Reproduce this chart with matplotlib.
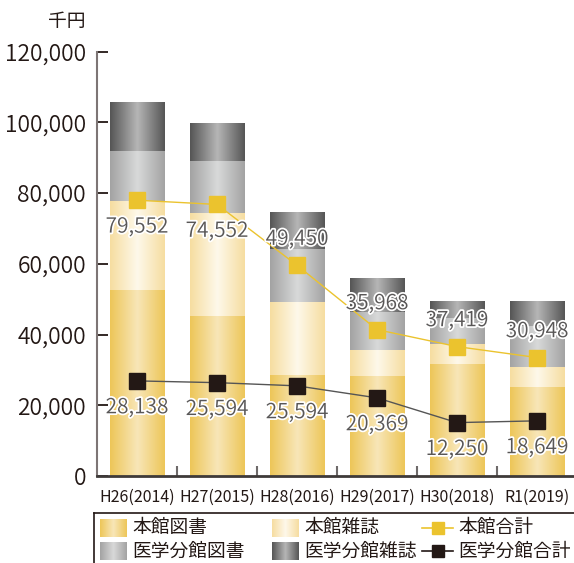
import matplotlib
matplotlib.use('Agg')
import matplotlib.pyplot as plt
import matplotlib.patheffects as pe
import numpy as np
from matplotlib.colors import LinearSegmentedColormap
from matplotlib.patches import Rectangle
from matplotlib.lines import Line2D

plt.rcParams['font.family'] = ['Noto Sans CJK JP', 'DejaVu Sans']

years = ['H26(2014)', 'H27(2015)', 'H28(2016)', 'H29(2017)', 'H30(2018)', 'R1(2019)']
series_names = ['本館図書', '本館雑誌', '医学分館図書', '医学分館雑誌']
line_names = ['本館合計', '医学分館合計']

# stacked bar segments (thousand yen)
honkan_books = [52550, 45190, 28470, 28190, 31690, 25160]
honkan_journals = [25300, 29260, 20680, 7360, 5660, 5660]
igaku_books = [14080, 14650, 15020, 10850, 7250, 11530]
igaku_journals = [13870, 10680, 10480, 9460, 4840, 7090]

# line markers as drawn, and the numbers printed next to them
honkan_total_pos = [78000, 76800, 59600, 41400, 36600, 33500]
igaku_total_pos = [26900, 26400, 25500, 22100, 15100, 15600]
honkan_total_labels = [79552, 74552, 49450, 35968, 37419, 30948]
igaku_total_labels = [28138, 25594, 25594, 20369, 12250, 18649]

yticks = [0, 20000, 40000, 60000, 80000, 100000, 120000]

text_c = '#231815'
gradients = [('#EDC658', '#F8E6B8'), ('#F6DDA0', '#FEF8EA'),
             ('#A3A3A3', '#D8D9D9'), ('#555555', '#B6B6B6')]
cmaps = [LinearSegmentedColormap.from_list('g%d' % i, [e, c, e])
         for i, (e, c) in enumerate(gradients)]
grad = np.linspace(0, 1, 256).reshape(1, -1)

W, H = 574, 563
fig = plt.figure(figsize=(W / 100, H / 100), dpi=100)
ax = fig.add_axes([97 / W, 1 - 476 / H, (W - 97) / W, (476 - 51.7) / H])

x = np.arange(len(years))
bottom = np.zeros(len(years))
for vals, cmap in zip([honkan_books, honkan_journals, igaku_books, igaku_journals], cmaps):
    bars = ax.bar(x, vals, bottom=bottom, width=0.68, color=cmap(0.5), zorder=2)
    for b in bars:
        im = ax.imshow(grad, cmap=cmap, aspect='auto', interpolation='bilinear',
                       extent=(b.get_x(), b.get_x() + b.get_width(),
                               b.get_y(), b.get_y() + b.get_height()), zorder=2.1)
        im.set_clip_path(b)
    bottom += np.array(vals)

ax.plot(x, honkan_total_pos, color='#EBC32E', lw=1.0, marker='s', ms=12,
        mfc='#EBC32E', mec='#EBC32E', zorder=3)
ax.plot(x, igaku_total_pos, color='#555555', lw=1.0, marker='s', ms=12,
        mfc=text_c, mec=text_c, zorder=3)

stroke = [pe.withStroke(linewidth=2.5, foreground='white')]
for i in range(len(years)):
    off = -19 if i < 2 else 19
    ax.annotate('{:,}'.format(honkan_total_labels[i]), (x[i], honkan_total_pos[i]),
                xytext=(0, off), textcoords='offset points', ha='center', va='center',
                fontsize=15, fontweight=350, color='#595757',
                path_effects=stroke, zorder=4)
    ax.annotate('{:,}'.format(igaku_total_labels[i]), (x[i], igaku_total_pos[i]),
                xytext=(0, -19), textcoords='offset points', ha='center', va='center',
                fontsize=15, fontweight=350, color='#595757',
                path_effects=stroke, zorder=4)

ax.set_xlim(-0.5, -0.5 + (W - 97) / 80)
ax.set_ylim(0, 120000)
ax.set_yticks(yticks)
ax.set_yticklabels(['{:,}'.format(v) for v in yticks], fontweight=350)
ax.set_xticks(x)
ax.set_xticklabels(years)
ax.set_xticks(x[:-1] + 0.5, minor=True)
ax.tick_params(axis='y', direction='in', length=8, width=1.3, color=text_c,
               pad=8, labelsize=16.5, labelcolor=text_c)
ax.tick_params(axis='x', which='major', length=0, pad=9, labelsize=11.5,
               labelcolor=text_c)
ax.tick_params(axis='x', which='minor', direction='in', length=7, width=1.5,
               color='#6e6a6a')
for s in ['top', 'right']:
    ax.spines[s].set_visible(False)
ax.spines['left'].set_color('#7d7575')
ax.spines['left'].set_linewidth(1.5)
ax.spines['bottom'].set_color('#3e3a39')
ax.spines['bottom'].set_linewidth(2)

fig.text(67 / W, 1 - 22 / H, '千円', ha='center', va='center', fontsize=13.5,
         color=text_c)

# legend drawn in pixel coordinates
lg = fig.add_axes([94 / W, 0, (W - 94) / W, (H - 513) / H])
lg.set_xlim(94, W)
lg.set_ylim(H, 513)
lg.set_xticks([])
lg.set_yticks([])
for s in ['right', 'bottom']:
    lg.spines[s].set_visible(False)
for s in ['left', 'top']:
    lg.spines[s].set_color(text_c)
    lg.spines[s].set_linewidth(1.2)

patch_spots = [(100, 528), (272, 528), (100, 551), (272, 551)]
for k, (px, py) in enumerate(patch_spots):
    r = Rectangle((px, py - 9), 27, 18, facecolor='none', edgecolor='none')
    lg.add_patch(r)
    im = lg.imshow(grad, cmap=cmaps[k], aspect='auto', interpolation='bilinear',
                   extent=(px, px + 27, py + 9, py - 9))
    im.set_clip_path(r)
    lg.text(px + 32, py, series_names[k], ha='left', va='center', fontsize=13.5,
            color=text_c)
for (lc, mc), py, name in zip([('#EBC32E', '#EBC32E'), ('#231815', '#231815')],
                              [528, 551], line_names):
    lg.add_line(Line2D([422, 453], [py, py], color=lc, lw=1.2))
    lg.add_line(Line2D([437.5], [py], marker='s', ms=8, mfc=mc, mec=mc))
    lg.text(458, py, name, ha='left', va='center', fontsize=13.5, color=text_c)
lg.set_xlim(94, W)
lg.set_ylim(H, 513)

fig.savefig('out.png', dpi=100)
